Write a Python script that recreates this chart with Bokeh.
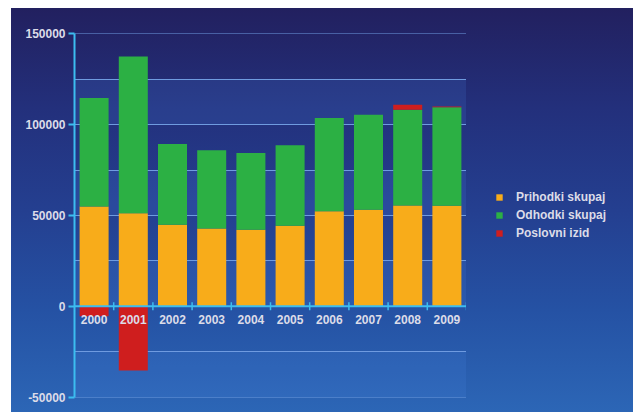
import numpy as np
from bokeh.plotting import figure
from bokeh.layouts import row
from bokeh.models import ColumnDataSource, FixedTicker, Span, Legend, LegendItem, Range1d
from bokeh.transform import dodge
from bokeh.core.properties import value
from bokeh.embed import file_html
from bokeh.resources import INLINE

# ---- data ----
years = ["2000", "2001", "2002", "2003", "2004", "2005", "2006", "2007", "2008", "2009"]
prihodki = [55000, 51300, 44900, 42900, 42100, 44300, 52400, 53100, 55500, 55300]
odhodki = [59700, 86200, 44500, 43000, 42300, 44350, 51300, 52400, 52700, 54200]
izid = [-5500, -35300, 0, 0, 0, 0, 0, 0, 2800, 500]
series_names = ["Prihodki skupaj", "Odhodki skupaj", "Poslovni izid"]
y_ticks = [-50000, 0, 50000, 100000, 150000]
y_tick_labels = ["-50000", "0", "50000", "100000", "150000"]
grid_step = 25000

# ---- derived stacking ----
pri = np.array(prihodki, dtype=float)
odh = np.array(odhodki, dtype=float)
iz = np.array(izid, dtype=float)
total = pri + odh
iz_bottom = np.where(iz >= 0, total, 0.0)
iz_top = np.where(iz >= 0, total + iz, iz)

src = ColumnDataSource(dict(
    year=years,
    base=[0.0] * len(years),
    pri=pri, tot=total,
    izb=iz_bottom, izt=iz_top,
))

FONT = value("Liberation Sans")
TXT = "#dcdce8"
CYAN = "#3cbdf0"
YELLOW = "#f8ac1a"
GREEN = "#2cb044"
RED = "#cf1e1e"
COLORS = [YELLOW, GREEN, RED]

W, H = 455, 404

pad = 150
p = figure(x_range=years, y_range=(y_ticks[0] - pad, y_ticks[-1] + pad), width=W, height=H,
           output_backend="svg", toolbar_location=None,
           min_border_left=63, min_border_right=0, min_border_top=25, min_border_bottom=15)
p.background_fill_alpha = 0
p.border_fill_alpha = 0
p.outline_line_color = None

p.vbar(x="year", bottom="base", top="pri", width=0.74, source=src,
       fill_color=YELLOW, line_color=None)
p.vbar(x="year", bottom="pri", top="tot", width=0.74, source=src,
       fill_color=GREEN, line_color=None)
p.vbar(x="year", bottom="izb", top="izt", width=0.74, source=src,
       fill_color=RED, line_color=None)

# x axis drawn at zero
p.xaxis.visible = False
p.xgrid.visible = False
p.add_layout(Span(location=0, dimension="width", line_color=CYAN, line_width=2))
p.scatter(x=dodge("year", 0.5, range=p.x_range), y="base", source=src, marker="dash",
          angle=np.pi / 2, size=8, line_color=CYAN, line_width=1.5)
p.text(x="year", y="base", text="year", source=src, text_align="center", text_baseline="top",
       y_offset=9, text_font=FONT, text_font_style="bold", text_font_size="12px", text_color=TXT)

# y axis
p.yaxis.ticker = FixedTicker(ticks=y_ticks)
p.yaxis.major_label_overrides = {t: l for t, l in zip(y_ticks, y_tick_labels)}
p.yaxis.axis_line_color = CYAN
p.yaxis.axis_line_width = 2
p.yaxis.major_tick_line_color = CYAN
p.yaxis.major_tick_line_width = 2
p.yaxis.major_tick_out = 6
p.yaxis.major_tick_in = 0
p.yaxis.minor_tick_line_color = None
p.yaxis.major_label_standoff = 3
p.yaxis.major_label_text_font = "Liberation Sans"
p.yaxis.major_label_text_font_style = "bold"
p.yaxis.major_label_text_font_size = "12px"
p.yaxis.major_label_text_color = TXT

# grid with alternating bands
p.ygrid.ticker = FixedTicker(ticks=list(np.arange(y_ticks[0], y_ticks[-1] + 1, grid_step)))
p.ygrid.grid_line_color = "#6f9be0"
p.ygrid.grid_line_width = 1
p.ygrid.band_fill_color = "#4a8ae8"
p.ygrid.band_fill_alpha = 0.16

# ---- legend panel (separate figure to the right) ----
pl = figure(width=167, height=H, output_backend="svg", toolbar_location=None,
            x_range=Range1d(0, 1), y_range=Range1d(0, 1),
            min_border_left=0, min_border_right=0, min_border_top=0, min_border_bottom=0)
pl.axis.visible = False
pl.grid.visible = False
pl.outline_line_color = None
pl.background_fill_alpha = 0
pl.border_fill_alpha = 0
# legend proxies: zero-size bars (nothing visible), used only for the legend swatches
proxy = ColumnDataSource(dict(x=[0.0], top=[0.0]))
items = []
for name, col in zip(series_names, COLORS):
    r = pl.vbar(x="x", top="top", width=0.0, source=proxy, fill_color=col, line_color=None)
    items.append(LegendItem(label=name, renderers=[r]))
legend = Legend(items=items, location=(29, 157), glyph_width=8, glyph_height=8, label_standoff=13,
                label_height=14, spacing=4, padding=0, margin=0,
                background_fill_alpha=0, border_line_color=None,
                label_text_font="Liberation Sans", label_text_font_style="bold",
                label_text_font_size="12px", label_text_color=TXT)
pl.add_layout(legend)

lay = row(p, pl, spacing=0)
lay.styles = {"background": "linear-gradient(180deg, #22205f 0%, #23307c 25%, #243f90 50%, #2552a4 75%, #2c66b6 100%)",
              "margin-left": "11px", "margin-top": "8px"}

open("out.html", "w").write(file_html(lay, INLINE))
